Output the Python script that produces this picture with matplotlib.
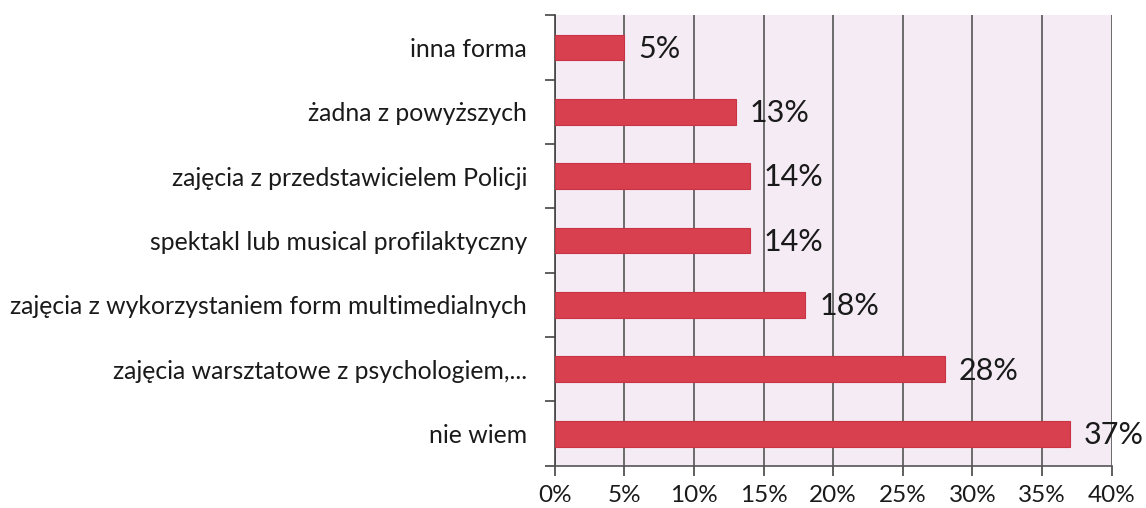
import numpy as np
import matplotlib.pyplot as plt
from matplotlib.ticker import FixedLocator, PercentFormatter

# kategorie od dołu do góry
kategorie = [
    "nie wiem",
    "zajęcia warsztatowe z psychologiem,...",
    "zajęcia z wykorzystaniem form multimedialnych",
    "spektakl lub musical profilaktyczny",
    "zajęcia z przedstawicielem Policji",
    "żadna z powyższych",
    "inna forma",
]
procenty = [37, 28, 18, 14, 14, 13, 5]
xticks = [0, 5, 10, 15, 20, 25, 30, 35, 40]

plt.rcParams['font.family'] = ['Lato', 'DejaVu Sans']

fig = plt.figure(figsize=(11.46, 5.08), dpi=100)
ax = fig.add_axes([0.484, 0.083, 0.486, 0.887])
ax.set_facecolor("#f4ebf4")

y = np.arange(len(kategorie))
ax.barh(y, procenty, height=0.4, color="#d9404f", edgecolor="#c83444", linewidth=0.8, zorder=3)

for yi, v in zip(y, procenty):
    ax.text(v + 1.0, yi - 0.02, f"{v}%", va="center", ha="left", fontsize=22, color="#1a1a1a", zorder=4)

ax.set_xlim(0, 40)
ax.set_ylim(-0.5, len(kategorie) - 0.5)
ax.set_xticks(xticks)
ax.xaxis.set_major_formatter(PercentFormatter(decimals=0))
ax.set_yticks(y)
ax.set_yticklabels(kategorie)
ax.yaxis.set_minor_locator(FixedLocator(np.arange(-0.5, len(kategorie), 1.0)))

ax.tick_params(axis="y", which="major", length=0, pad=20, labelsize=17.8, labelcolor="#1a1a1a")
ax.tick_params(axis="y", which="minor", length=7, width=1.2, color="#444444")
ax.tick_params(axis="x", which="major", length=7, width=1.2, color="#444444", pad=7,
               labelsize=17.5, labelcolor="#1a1a1a")

ax.grid(axis="x", color="#555555", linewidth=1.2, zorder=1)
for s in ["top", "right"]:
    ax.spines[s].set_visible(False)
ax.spines["left"].set_color("#444444")
ax.spines["left"].set_linewidth(1.2)
ax.spines["bottom"].set_color("#555555")
ax.spines["bottom"].set_linewidth(1.2)

fig.savefig("out.png", dpi=100, facecolor="white")
